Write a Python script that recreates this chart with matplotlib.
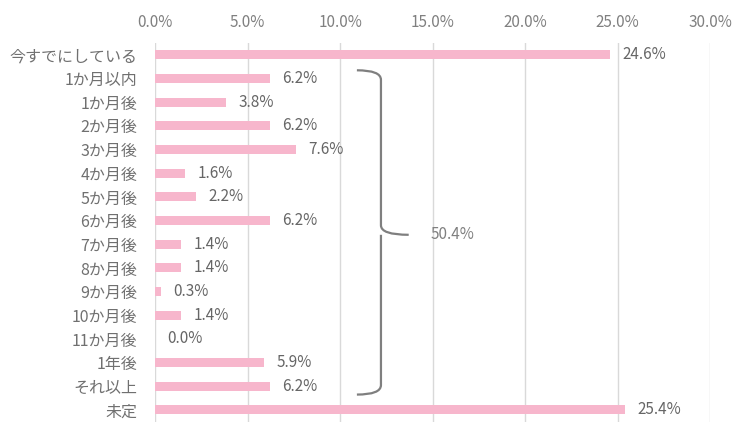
import numpy as np
import matplotlib.pyplot as plt
from matplotlib.path import Path
from matplotlib.patches import PathPatch

plt.rcParams['font.family'] = ['Noto Sans CJK JP', 'DejaVu Sans']

categories = ['今すでにしている', '1か月以内', '1か月後', '2か月後', '3か月後', '4か月後',
              '5か月後', '6か月後', '7か月後', '8か月後', '9か月後', '10か月後',
              '11か月後', '1年後', 'それ以上', '未定']
values = [24.6, 6.2, 3.8, 6.2, 7.6, 1.6, 2.2, 6.2, 1.4, 1.4, 0.3, 1.4, 0.0, 5.9, 6.2, 25.4]
xticks = [0, 5, 10, 15, 20, 25, 30]
brace_total = '50.4%'

gray = '#666666'
pink = '#F7B6CC'

fig = plt.figure(figsize=(7.5, 4.44), dpi=100)
ax = fig.add_axes([0.207, 0.05, 0.74, 0.853])

y = np.arange(len(categories))
ax.barh(y, values, height=0.38, color=pink, zorder=2)
for yi, v in zip(y, values):
    ax.annotate('%.1f%%' % v, (v, yi), xytext=(9, 0), textcoords='offset points',
                va='center', ha='left', fontsize=11, color=gray)

ax.set_ylim(len(categories) - 0.5, -0.5)
ax.set_xlim(0, 30)
ax.set_yticks(y)
ax.set_yticklabels(categories, fontsize=11.5, color='#707070')
ax.xaxis.tick_top()
ax.set_xticks(xticks)
ax.set_xticklabels(['%.1f%%' % t for t in xticks], fontsize=11, color='#808080')
ax.tick_params(axis='y', length=0, pad=13)
ax.tick_params(axis='x', length=0, pad=9)
ax.grid(axis='x', color='#d9d9d9', linewidth=1, zorder=0)
for s in ax.spines.values():
    s.set_visible(False)

# brace over 1か月以内 .. それ以上
x0, xv, xt = 10.9, 12.2, 13.7
yt, ym, yb = 0.65, 7.6, 14.35
verts = [(x0, yt), (xv, yt), (xv, yt + 0.4),
         (xv, ym - 0.4),
         (xv, ym), (xt, ym),
         (xv, ym), (xv, ym + 0.4),
         (xv, yb - 0.4),
         (xv, yb), (x0, yb)]
codes = [Path.MOVETO, Path.CURVE3, Path.CURVE3,
         Path.LINETO,
         Path.CURVE3, Path.CURVE3,
         Path.MOVETO, Path.CURVE3,
         Path.LINETO,
         Path.CURVE3, Path.CURVE3]
ax.add_patch(PathPatch(Path(verts, codes), fill=False, edgecolor='#7f7f7f', linewidth=1.6, zorder=3))
ax.text(14.9, ym, brace_total, va='center', ha='left', fontsize=11, color='#808080')

fig.savefig('out.png', dpi=100)
